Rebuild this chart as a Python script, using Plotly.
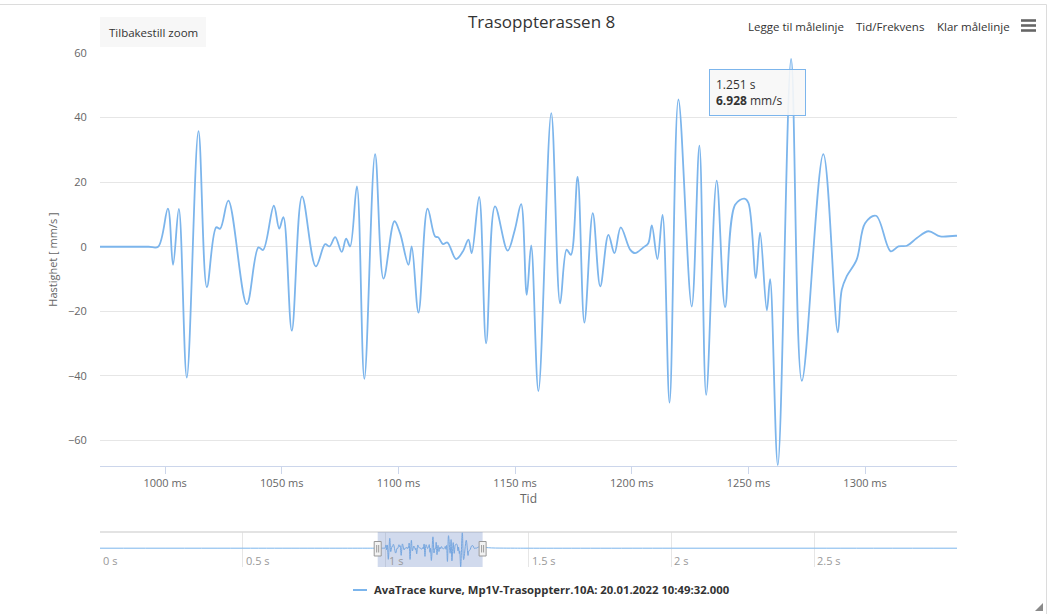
import plotly.graph_objects as go

W, H = 1050, 614


def px(x):
    return x / W


def py(y):
    return 1 - y / H


# ---------------- data ----------------
title_text = "Trasoppterassen 8"
series_name = "AvaTrace kurve, Mp1V-Trasoppterr.10A: 20.01.2022 10:49:32.000"
y_title = "Hastighet [ mm/s ]"
x_title = "Tid"
reset_label = "Tilbakestill zoom"
toolbar_labels = ["Legge til målelinje", "Tid/Frekvens", "Klar målelinje"]
tooltip_time = "1.251 s"
tooltip_value = "6.928"
tooltip_unit = "mm/s"

time_ms = [
    0, 500, 900, 960, 985, 993, 997, 1001.2, 1003.4, 1005.9, 1009.3, 1014.3, 1017.9, 1021.9, 1023.6,
    1027.1, 1035.0, 1040.0, 1042.0, 1046.6, 1048.9, 1050.7, 1054.3, 1058.7, 1064.6,
    1068.6, 1070.5, 1072.9, 1075.7, 1077.6, 1079.3, 1082.2, 1085.4, 1090.0, 1093.6,
    1098.3, 1100.7, 1104.3, 1105.7, 1108.6, 1112.5, 1115.7, 1117.1, 1119.1, 1121.0,
    1124.7, 1127.6, 1130.0, 1131.4, 1134.6, 1137.6, 1141.4, 1146.8, 1149.9, 1152.6,
    1155.0, 1156.9, 1160.0, 1165.5, 1169.3, 1172.1, 1173.9, 1176.8, 1179.7, 1183.3,
    1186.5, 1190.0, 1192.6, 1195.3, 1199.3, 1201.4, 1205.0, 1207.1, 1208.6, 1211.0,
    1213.2, 1216.2, 1220.0, 1225.7, 1229.0, 1231.9, 1236.4, 1240.0, 1244.3, 1248.3,
    1250.0, 1253.2, 1255.0, 1257.9, 1259.3, 1262.6, 1268.3, 1272.9, 1282.1, 1288.3,
    1290.0, 1292.1, 1296.4, 1300.0, 1304.7, 1311.0, 1314.3, 1317.9, 1322.2, 1327.2,
    1332.2, 1339.3, 1350.0, 1370.0, 1400.0, 1450.0, 1500.0, 2000.0, 2500.0, 3000.0,
]
velocity = [
    0, 0, 0, 0, 0, 0, 0, 11.8, -5.6, 11.7, -40.5, 35.8, -12.5, 6.0, 5.6,
    14.3, -17.8, -0.2, -1.0, 12.7, 5.6, 9.2, -26.0, 15.6, -6.1,
    0.8, 0.1, 3.0, -1.6, 2.5, 0.1, 18.7, -40.9, 28.7, -9.9,
    7.9, 4.2, -5.6, 0.1, -20.4, 11.8, 3.2, 2.9, 0.8, 1.3,
    -3.8, -1.5, 2.2, -2.0, 15.4, -29.9, 12.5, -1.2, 5.3, 13.2,
    -14.9, 0.4, -44.7, 41.4, -17.5, -0.9, -2.5, 21.6, -23.5, 10.4,
    -12.3, 3.7, -2.0, 6.0, -0.9, -2.0, -0.2, 1.1, 6.6, -3.8,
    9.9, -48.3, 45.6, -18.5, 31.3, -45.9, 20.5, -18.7, 13.0, 14.9,
    13.6, -9.7, 4.4, -19.7, -10.0, -67.6, 58.2, -41.5, 28.7, -26.5,
    -13.3, -9.2, -4.0, 7.3, 9.6, -1.4, 0.1, 0.3, 2.7, 4.8,
    3.2, 3.4, 2.5, 1.0, 0.4, 0.1, 0.0, 0.0, 0.0, 0.0,
]

y_ticks = [-60, -40, -20, 0, 20, 40, 60]
x_ticks_ms = [1000, 1050, 1100, 1150, 1200, 1250, 1300]
nav_ticks_s = [0, 0.5, 1, 1.5, 2, 2.5]
nav_tick_labels = ["0 s", "0.5 s", "1 s", "1.5 s", "2 s", "2.5 s"]
view_ms = [972.1, 1339.4]
y_range = [-67.9, 60]
nav_range_s = [0, 3.0]

# ---------------- style ----------------
FONT = "Open Sans, Liberation Sans, Arial, sans-serif"
LINE = "#7cb5ec"
PL, PR = 100, 957          # plot left/right (px)
PT, PB = 53, 466           # main plot top/bottom (px)
NT, NB = 532, 567          # navigator top/bottom (px)

fig = go.Figure()
fig.add_trace(go.Scatter(
    x=time_ms, y=velocity, mode="lines", name=series_name,
    line=dict(color=LINE, width=1.8, shape="spline", smoothing=1.0),
    xaxis="x", yaxis="y", hoverinfo="skip", showlegend=False,
))
fig.add_trace(go.Scatter(
    x=[t / 1000 for t in time_ms], y=velocity, mode="lines",
    line=dict(color=LINE, width=1, shape="spline", smoothing=1.0),
    xaxis="x2", yaxis="y2", hoverinfo="skip", showlegend=False,
))

shapes = []
# container border
shapes.append(dict(type="rect", xref="paper", yref="paper",
                   x0=px(-5), x1=px(1046.5), y0=py(620), y1=py(4.5),
                   line=dict(color="#dcdcdc", width=1), fillcolor="rgba(0,0,0,0)", layer="below"))
# reset zoom button
shapes.append(dict(type="rect", xref="paper", yref="paper",
                   x0=px(100), x1=px(206), y0=py(47), y1=py(17),
                   line=dict(width=0), fillcolor="#f7f7f7", layer="below"))
# hamburger icon
for yy in (20.5, 25.5, 30.5):
    shapes.append(dict(type="line", xref="paper", yref="paper",
                       x0=px(1021), x1=px(1036), y0=py(yy), y1=py(yy),
                       line=dict(color="#666666", width=2.6)))
# navigator top outline
shapes.append(dict(type="line", xref="paper", yref="paper",
                   x0=px(PL), x1=px(PR), y0=py(NT), y1=py(NT),
                   line=dict(color="#dadada", width=1.5)))
# navigator mask
m0, m1 = view_ms[0] / 1000, view_ms[1] / 1000
shapes.append(dict(type="rect", xref="x2", yref="paper",
                   x0=m0, x1=m1, y0=py(NB), y1=py(NT),
                   line=dict(width=0), fillcolor="rgba(102,133,194,0.3)", layer="above"))
# navigator handles
for mx in (m0, m1):
    shapes.append(dict(type="rect", xref="x2", yref="paper", xsizemode="pixel", xanchor=mx,
                       x0=-3.5, x1=3.5, y0=py(556), y1=py(541.5),
                       line=dict(color="#999999", width=1), fillcolor="#f2f2f2", layer="above"))
    for dx in (-1, 1):
        shapes.append(dict(type="line", xref="x2", yref="paper", xsizemode="pixel", xanchor=mx,
                           x0=dx, x1=dx, y0=py(552.5), y1=py(545),
                           line=dict(color="#999999", width=1), layer="above"))
# legend symbol
shapes.append(dict(type="line", xref="paper", yref="paper",
                   x0=px(353), x1=px(367), y0=py(590), y1=py(590),
                   line=dict(color=LINE, width=2)))
# resize grip
shapes.append(dict(type="path", xref="paper", yref="paper",
                   path=f"M {px(1043)},{py(603)} L {px(1043)},{py(611)} L {px(1035)},{py(611)} Z",
                   line=dict(width=0), fillcolor="#8a8a8a"))

annotations = []
annotations.append(dict(text=title_text, xref="paper", yref="paper",
                        x=px(541), y=py(21), xanchor="center", yanchor="middle",
                        showarrow=False, font=dict(family=FONT, size=17, color="#333333")))
annotations.append(dict(text=reset_label, xref="paper", yref="paper",
                        x=px(153), y=py(32), xanchor="center", yanchor="middle",
                        showarrow=False, font=dict(family=FONT, size=11.5, color="#333333")))
for lbl, xl in zip(toolbar_labels, (745.5, 853.5, 935)):
    annotations.append(dict(text=lbl, xref="paper", yref="paper",
                            x=px(xl), y=py(26.5), xanchor="left", yanchor="middle",
                            showarrow=False, font=dict(family=FONT, size=11.5, color="#333333")))
annotations.append(dict(text=f"{tooltip_time}<br><b>{tooltip_value}</b> {tooltip_unit}",
                        xref="paper", yref="paper", x=px(709), y=py(69),
                        xanchor="left", yanchor="top", align="left", width=83,
                        showarrow=False, bgcolor="rgba(247,247,247,0.9)",
                        bordercolor=LINE, borderwidth=1, borderpad=6,
                        font=dict(family=FONT, size=12, color="#333333")))
annotations.append(dict(text=f"<b>{series_name}</b>", xref="paper", yref="paper",
                        x=px(372), y=py(589.5), xanchor="left", yanchor="middle",
                        showarrow=False, font=dict(family=FONT, size=11.3, color="#333333")))
# navigator axis labels (inside, right of each grid line)
for tv, tl in zip(nav_ticks_s, nav_tick_labels):
    annotations.append(dict(text=tl, xref="x2", yref="paper", x=tv, y=py(560),
                            xanchor="left", yanchor="middle", xshift=1,
                            showarrow=False, font=dict(family=FONT, size=11, color="#999999")))

fig.update_layout(
    width=W, height=H,
    margin=dict(l=0, r=0, t=0, b=0, autoexpand=False),
    paper_bgcolor="white", plot_bgcolor="white",
    font=dict(family=FONT, color="#666666"),
    showlegend=False,
    xaxis=dict(domain=[px(PL), px(PR)], range=view_ms, anchor="y", automargin=False,
               tickvals=x_ticks_ms, ticktext=[f"{v} ms" for v in x_ticks_ms],
               ticks="outside", ticklen=7, tickcolor="#ccd6eb",
               showline=True, linecolor="#ccd6eb", linewidth=1,
               showgrid=False, zeroline=False,
               tickfont=dict(family=FONT, size=11, color="#666666"),
               title=dict(text=x_title, standoff=4, font=dict(family=FONT, size=12, color="#666666"))),
    yaxis=dict(domain=[py(PB), py(PT)], range=y_range, anchor="x", automargin=False,
               tickvals=y_ticks, showgrid=True, gridcolor="#e6e6e6", gridwidth=1,
               zeroline=False, showline=False,
               ticks="outside", ticklen=10, tickcolor="rgba(0,0,0,0)",
               tickfont=dict(family=FONT, size=11, color="#666666"),
               title=dict(text=y_title, standoff=8, font=dict(family=FONT, size=11, color="#666666"))),
    xaxis2=dict(domain=[px(PL), px(PR)], range=nav_range_s, anchor="y2", automargin=False,
                tickvals=nav_ticks_s, showticklabels=False, ticks="",
                showgrid=True, gridcolor="#e6e6e6", gridwidth=1,
                showline=False, zeroline=False),
    yaxis2=dict(domain=[py(NB), py(NT)], range=[-68.5, 59], anchor="x2", automargin=False,
                showgrid=False, showticklabels=False, zeroline=False, showline=False, ticks=""),
    shapes=shapes,
    annotations=annotations,
)

fig.write_html("out.html", config={"displayModeBar": False})

# remove default page margins so the figure sits at the window origin
with open("out.html", "r", encoding="utf-8") as f:
    html = f.read()
html = html.replace("<head>", "<head><style>html,body{margin:0;padding:0;overflow:hidden;}</style>", 1)
with open("out.html", "w", encoding="utf-8") as f:
    f.write(html)
